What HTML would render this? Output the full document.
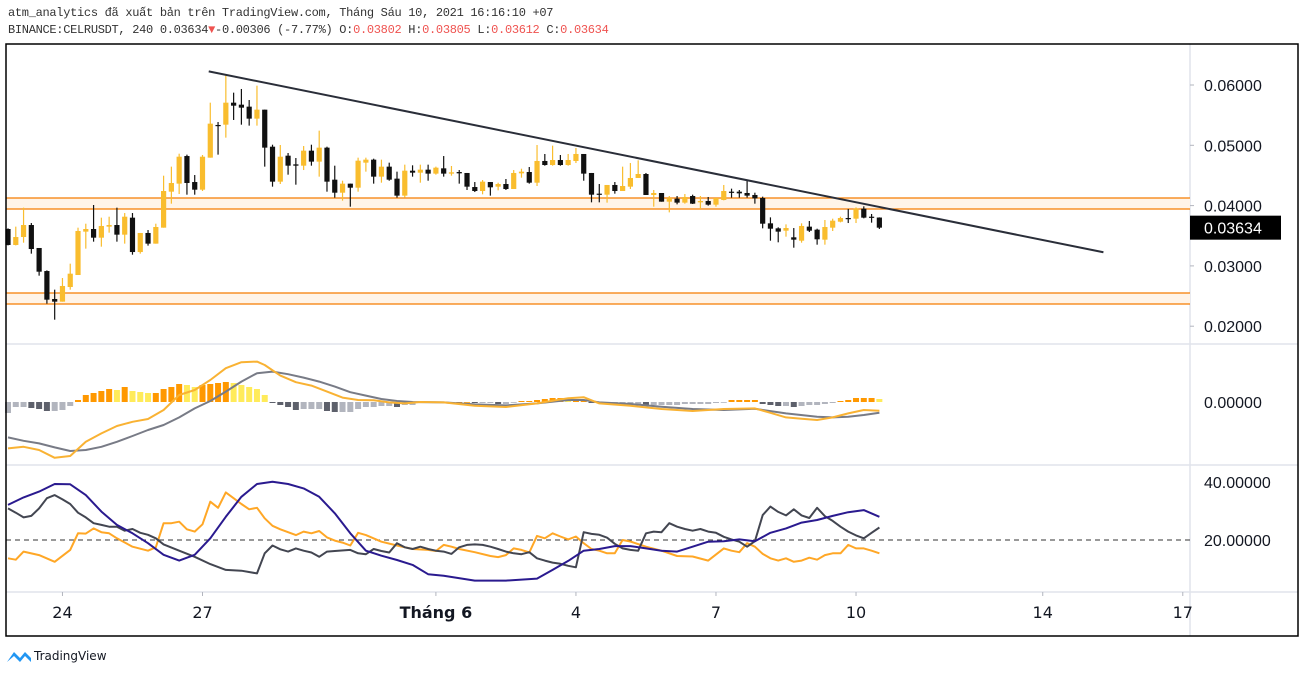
<!DOCTYPE html>
<html><head><meta charset="utf-8"><style>
html,body{margin:0;padding:0;background:#fff;width:1305px;height:673px;overflow:hidden}
.hdr{position:absolute;left:8px;font-family:"Liberation Mono",monospace;font-size:12px;color:#333;white-space:pre;letter-spacing:-0.3px}
.red{color:#ef5350}
svg{position:absolute;left:0;top:0}
</style></head><body>
<div class="hdr" style="top:6px">atm_analytics đã xuất bản trên TradingView.com, Tháng Sáu 10, 2021 16:16:10 +07</div>
<div class="hdr" style="top:23px">BINANCE:CELRUSDT, 240 0.03634<span class="red">▼</span>-0.00306 (-7.77%) O:<span class="red">0.03802</span> H:<span class="red">0.03805</span> L:<span class="red">0.03612</span> C:<span class="red">0.03634</span></div>
<svg id="chart" width="1305" height="673" xmlns="http://www.w3.org/2000/svg"></svg>
<script>
// ---- price data (4h candles) ----
const opens=[.03612,.03347,.03479,.03678,.03297,.02915,.02451,.02407,.02650,.02849,.03568,.03612,.03468,.03651,.03678,.03518,.03800,.03230,.03546,.03369,.03634,.04231,.04364,.04822,.04391,.04264,.04795,.05337,.05342,.05707,.05674,.05641,.05442,.05591,.04977,.04397,.04828,.04684,.04662,.04911,.04729,.04961,.04430,.04214,.04364,.04297,.04712,.04762,.04480,.04646,.04447,.04165,.04579,.04546,.04596,.04530,.04618,.04530,.04557,.04541,.04308,.04242,.04391,.04314,.04358,.04275,.04535,.04557,.04380,.04740,.04673,.04756,.04673,.04740,.04856,.04541,.04198,.04181,.04342,.04242,.04314,.04458,.04524,.04176,.04209,.04065,.04115,.04049,.04159,.04054,.04076,.04015,.04093,.04231,.04231,.04209,.04176,.04126,.03706,.03623,.03584,.03474,.03418,.03651,.03601,.03435,.03634,.03733,.03794,.03783,.03949,.03816,.03802];
const highs=[.03623,.03651,.03966,.03711,.03297,.02926,.02606,.02799,.03037,.03634,.03700,.04010,.03800,.03816,.03966,.03877,.03877,.03546,.03595,.03700,.04496,.04646,.04861,.04845,.04507,.04839,.05707,.05386,.06182,.05873,.05934,.05751,.05989,.05591,.05010,.05005,.04872,.04789,.04988,.05010,.05243,.04977,.04662,.04413,.04364,.04795,.04795,.04778,.04762,.04712,.04563,.04679,.04668,.04679,.04679,.04646,.04822,.04657,.04590,.04541,.04391,.04424,.04391,.04380,.04441,.04590,.04612,.04640,.05005,.04856,.04994,.04839,.04856,.04955,.04856,.04541,.04358,.04342,.04391,.04646,.04706,.04751,.04541,.04259,.04209,.04159,.04159,.04192,.04181,.04159,.04143,.04126,.04342,.04281,.04259,.04424,.04214,.04148,.03805,.03640,.03689,.03628,.03706,.03745,.03617,.03761,.03783,.03816,.03944,.03971,.03988,.03861,.03805];
const lows=[.03340,.03340,.03385,.03203,.02838,.02374,.02108,.02407,.02606,.02849,.03286,.03402,.03319,.03551,.03402,.03369,.03186,.03203,.03336,.03369,.03634,.04032,.04192,.04181,.04181,.04242,.04795,.04845,.05127,.05420,.05342,.05326,.05326,.04646,.04314,.04358,.04513,.04347,.04590,.04662,.04480,.04231,.04132,.04082,.03982,.04231,.04563,.04364,.04380,.04413,.04132,.04132,.04480,.04380,.04413,.04513,.04480,.04496,.04364,.04259,.04225,.04187,.04165,.04253,.04259,.04275,.04463,.04364,.04325,.04662,.04662,.04662,.04662,.04706,.04413,.04054,.04054,.04049,.04198,.04242,.04275,.04458,.04176,.03982,.04065,.03888,.04021,.04032,.04027,.03944,.03999,.03982,.04087,.04132,.04132,.04132,.04032,.03623,.03418,.03391,.03485,.03302,.03385,.03562,.03352,.03352,.03579,.03722,.03711,.03711,.03789,.03717,.03612];
const closes=[.03347,.03479,.03678,.03280,.02904,.02440,.02407,.02667,.02871,.03579,.03612,.03468,.03662,.03678,.03518,.03816,.03230,.03546,.03369,.03645,.04242,.04375,.04811,.04375,.04264,.04811,.05359,.05326,.05707,.05657,.05624,.05442,.05591,.04961,.04397,.04811,.04662,.04662,.04911,.04729,.04961,.04397,.04214,.04364,.04297,.04745,.04762,.04480,.04646,.04430,.04165,.04579,.04546,.04596,.04530,.04629,.04530,.04552,.04535,.04314,.04242,.04397,.04303,.04358,.04275,.04541,.04563,.04380,.04740,.04673,.04756,.04673,.04756,.04856,.04530,.04181,.04187,.04342,.04242,.04325,.04458,.04524,.04176,.04209,.04065,.04126,.04049,.04143,.04032,.04076,.04015,.04126,.04242,.04214,.04203,.04165,.04120,.03700,.03617,.03568,.03628,.03435,.03662,.03584,.03441,.03645,.03750,.03794,.03783,.03949,.03800,.03805,.03634];
const priceTicks=[0.06,0.05,0.04,0.03,0.02];
const zoneLevels=[[0.04126,0.03944],[0.02551,0.02368]];
const trendPrices=[0.06226,0.03226]; const trendIdx=[25.8,140.8];
// ---- MACD (units 1e-4) ----
const macdIdx=[0,2,4,6,8,10,12,14,16,18,20,22,24,26,28,30,32,33,35,37,39,41,43,45,47,49,51,53,56,60,64,68,72,74,76,80,84,88,92,96,98,100,102,104,106,108,110,112];
const macdVals=[-23.2,-22.4,-24,-27.9,-27,-19.9,-15.7,-12,-9.9,-8.5,-4,3.5,6,11,16.9,19.9,20.2,18.5,13.2,9.9,8.2,5.2,2.2,1,0.9,-0.2,-0.7,0,-0.2,-1.9,-2.5,-0.7,1.9,2.4,-0.7,-1.9,-3.5,-4.5,-3.5,-3.2,-5.4,-7.7,-8.4,-9,-7.7,-5.7,-4,-4.4];
const sigIdx=[0,2,4,6,8,10,12,14,16,18,20,22,24,26,28,30,32,34,36,38,40,42,44,46,48,50,52,56,60,64,68,72,74,76,80,84,88,92,96,100,104,106,108,110,112];
const sigVals=[-17.7,-19.4,-20.7,-22.7,-24.5,-24,-22.4,-19.9,-17,-14,-11.5,-7.7,-3.2,0.5,5.2,10.2,14.4,15.2,13.9,12.2,10.2,7.7,4.9,3.2,1.5,0.5,0,-0.2,-1.2,-1.7,-0.7,1,1,-0.2,-1,-2.4,-3.5,-4,-3.4,-5.7,-7.4,-7.7,-7.4,-6.5,-5.4];
const histVals=[-5.5,-2.5,-2.5,-3,-3.5,-4.5,-4.5,-4,-2,1,3.5,4.5,5.5,6.5,6,7.5,5.5,5,4.5,4.5,6.5,7.5,9,8.5,7.5,8.5,9,9.5,10,9.5,8.5,7.5,6.5,3.5,-0.5,-1.5,-2.5,-4,-3.5,-3.5,-3.5,-4.5,-5,-5,-5,-3.5,-2.5,-2.5,-2,-2,-2.5,-1.5,-1.5,-0.5,0,0,0,0,0,0,-0.5,-0.5,-0.5,-1,-1,-0.3,0.5,0.5,1,1.5,2,2,1,1,1,-0.5,-0.5,-1,-1,-1,-1,-1,-1.5,-1.5,-1.5,-1.5,-1.5,-1,-1,-1,-1,-0.5,-0.3,1,1,1,1,-1,-1.5,-2,-2,-2.5,-2,-1.5,-1.5,-1,-0.5,0.5,1,2,2,2,1.5];
// ---- DMI ----
const adxIdx=[0,2,4,6,8,10,12,14,16,18,20,22,24,26,28,30,32,34,36,38,40,42,44,46,48,50,52,54,56,60,64,68,70,72,74,76,78,80,82,84,86,88,90,92,94,96,98,100,102,104,106,108,110,112];
const adxVals=[32.1,34.7,36.7,39.3,39.2,35.5,29.8,25.2,22.3,18.9,14.9,12.9,14.9,20.6,28,34.9,39.3,40.1,39.3,37.8,34.9,29.2,22.3,16.3,14.6,13.1,11.4,8.2,7.7,6,6,6.7,9.7,12.8,16.3,16.9,17.9,17.9,17.1,16.3,16,17.7,19.4,19.6,20.2,19.6,22.5,24,26,26.9,28.3,29.6,30.3,28];
const pdiIdx=[0,1,2,4,6,8,9,10,11,12,13,14,16,18,19,20,21,22,23,24,25,26,27,28,29,30,31,32,33,34,35,36,37,38,39,40,41,42,43,44,45,46,48,50,52,54,55,56,57,58,60,62,63,64,65,66,67,68,69,70,71,72,73,74,75,76,77,78,79,80,82,84,86,88,90,92,93,94,95,96,97,98,99,100,101,102,103,104,105,106,107,108,109,110,111,112];
const pdiVals=[13.7,13.2,16,14.8,12.5,16.6,22.3,22.2,24,22.7,22.3,20.6,17.7,16.3,17.5,25.8,25.8,26.3,23.7,22.9,25.4,33.2,31.1,36.4,34.4,32.4,30.6,31.1,27.5,24.9,23.7,22.7,21.7,22.9,22.3,23.1,20.9,19.8,19.1,18.1,22.5,21.7,19.4,18.1,16.9,16.6,16.2,18.3,17.7,16.9,15.8,14.5,14.1,14.8,17.1,16.6,15.7,21.4,20.6,22.3,21.2,20.2,21.2,18.9,16.9,16.3,15.4,15.4,20,19.5,17.7,16.3,14.5,14.3,12.9,17.1,16.3,15.8,18.9,17.7,15.2,13.7,12.9,13.7,12.5,12.9,13.9,13.2,14.8,15.4,15.4,18.3,17.1,17.1,16.3,15.4];
const mdiIdx=[0,1,2,3,4,5,6,7,8,9,10,11,12,13,14,15,16,17,18,19,20,22,24,26,28,30,32,33,34,35,36,37,38,39,40,41,42,44,45,46,47,48,49,50,51,52,53,54,55,56,57,58,59,60,61,62,63,64,65,66,67,68,69,70,71,72,73,74,75,76,77,78,79,80,81,82,83,84,85,86,87,88,89,90,91,92,93,94,95,96,97,98,99,100,101,102,103,104,105,106,107,108,109,110,111,112];
const mdiVals=[30.9,29.4,27.8,28.3,30.9,34.4,35.5,34,32.4,29.4,27.8,25.8,25.2,24.6,24.6,23.2,23.8,22.5,21.8,20.6,18.5,16.3,14.2,11.7,9.7,9.4,8.5,15.4,18.1,16.8,16,17.1,16.3,15.7,14.2,16,16.2,16.6,15.4,15.1,16.9,16.2,15.7,18.9,17.5,16.9,17.7,16.9,16.3,16,15.2,17.5,18.3,18.5,18.3,17.7,16.9,16,15.4,15.1,15.8,13.7,12.9,12.2,11.8,11.1,10.6,22.7,22.1,21.8,20.8,18.7,17.1,16.6,16.3,22.3,22.9,22.7,25.8,24.6,23.8,23.2,23.8,22.9,22.5,21.1,20.2,19.4,17.7,19.6,28.6,31.5,29.7,28.5,30.6,28.5,27.6,31.1,28.2,26.6,24.6,22.9,21.6,20.6,22.5,24.3];
const dmiTicks=[40,20];
const xLabels=["24","27","Tháng 6","4","7","10","14","17"];
const xLabelIdx=[7,25,55,73,91,109,133,151];

const NS="http://www.w3.org/2000/svg";
const svg=document.getElementById('chart');
function el(tag,attrs,parent){const e=document.createElementNS(NS,tag);for(const k in attrs)e.setAttribute(k,attrs[k]);(parent||svg).appendChild(e);return e;}
const X=i=>8+i*7.78;
const Y=p=>85+(0.06-p)*6030;
const YM=v=>402-v*2;
const YD=v=>540-(v-20)*2.9;
const L=6,R=1190,RB=1298,T=44,B=636;

// separators
[[344],[465],[592]].forEach(([y])=>{const s=el('line',{x1:L,x2:RB,y1:y,y2:y,stroke:'#e0e3eb','stroke-width':1.5});

});
const vs=el('line',{x1:R,x2:R,y1:T,y2:B,stroke:'#e0e3eb','stroke-width':1.5});



// zones
zoneLevels.forEach(z=>{const g=el('g',{});


el('rect',{x:L,y:Y(z[0]),width:R-L,height:Y(z[1])-Y(z[0]),fill:'#fff4e8'},g);
el('line',{x1:L,x2:R,y1:Y(z[0]),y2:Y(z[0]),stroke:'#f57c00','stroke-width':1.3},g);
el('line',{x1:L,x2:R,y1:Y(z[1]),y2:Y(z[1]),stroke:'#f57c00','stroke-width':1.3},g);});

// candles
for(let i=0;i<opens.length;i++){const up=closes[i]>=opens[i];const c=up?'#f9bd2e':'#111';
const g=el('g',{});


el('line',{x1:X(i),x2:X(i),y1:Y(highs[i]),y2:Y(lows[i]),stroke:c,'stroke-width':1.2},g);
const t=Y(Math.max(opens[i],closes[i])),b=Y(Math.min(opens[i],closes[i]));
el('rect',{x:X(i)-2.6,y:t,width:5.2,height:Math.max(1.2,b-t),fill:c},g);}

// trend line
const tl=el('line',{x1:X(trendIdx[0]),y1:Y(trendPrices[0]),x2:X(trendIdx[1]),y2:Y(trendPrices[1]),stroke:'#2a2e39','stroke-width':2});



// MACD hist
for(let i=0;i<histVals.length;i++){const v=histVals[i],p=i>0?histVals[i-1]:v;
let c=v>=0?(v>=p?'#ff9800':'#ffeb5a'):(v<p?'#5d606b':'#b2b5be');
const y0=YM(0),y1=YM(v);
const r=el('rect',{x:X(i)-3,y:Math.min(y0,y1),width:6,height:Math.max(0.8,Math.abs(y1-y0)),fill:c});

}
function poly(idx,vals,fy,col,w,name){const d=idx.map((k,j)=>X(k).toFixed(1)+','+fy(vals[j]).toFixed(1)).join(' ');
const p=el('polyline',{points:d,fill:'none',stroke:col,'stroke-width':w,'stroke-linejoin':'round'});

}
poly(sigIdx,sigVals,YM,'#787b86',2,'macd-signal-line');
poly(macdIdx,macdVals,YM,'#f9b233',2,'macd-line');

// DMI
const dl=el('line',{x1:L,x2:R,y1:YD(20),y2:YD(20),stroke:'#333','stroke-width':1,'stroke-dasharray':'5,4'});


poly(pdiIdx,pdiVals,YD,'#ffa726',2,'plus-di-line');
poly(mdiIdx,mdiVals,YD,'#434651',2,'minus-di-line');
poly(adxIdx,adxVals,YD,'#2a1a8f',2,'adx-line');

// price axis
priceTicks.forEach(p=>{el('line',{x1:R,x2:R+4,y1:Y(p),y2:Y(p),stroke:'#b2b5be'});
const t=el('text',{x:1204,y:Y(p)+6,'font-size':16,'font-family':'Liberation Sans, sans-serif',fill:'#131722'});t.textContent=p.toFixed(5);

});
const lastP=closes[closes.length-1];
const badge=el('rect',{x:R,y:Y(lastP)-12,width:91,height:24,fill:'#000'});


const bt=el('text',{x:1204,y:Y(lastP)+6,'font-size':16,'font-family':'Liberation Sans, sans-serif',fill:'#fff'});bt.textContent=lastP.toFixed(5);


const mz=el('text',{x:1204,y:YM(0)+6,'font-size':16,'font-family':'Liberation Sans, sans-serif',fill:'#131722'});mz.textContent='0.00000';


dmiTicks.forEach(v=>{const t=el('text',{x:1204,y:YD(v)+6,'font-size':16,'font-family':'Liberation Sans, sans-serif',fill:'#131722'});t.textContent=v.toFixed(5);

});

// x axis
xLabels.forEach((s,j)=>{const x=X(xLabelIdx[j]);el('line',{x1:x,x2:x,y1:592,y2:596,stroke:'#b2b5be'});
const t=el('text',{x:x,y:618,'font-size':16,'text-anchor':'middle','font-family':'DejaVu Sans, sans-serif','font-weight':s.length>3?'bold':'normal',fill:'#131722'});t.textContent=s;

});

// frame
const fr=el('rect',{x:L,y:T,width:RB-L,height:B-T,fill:'none',stroke:'#000','stroke-width':1.5});



// logo
const lg=el('g',{});


el('path',{d:'M7 662 L14 652 L20 658 L25 652 L31 658 L31 662 L25 656 L20 662 L14 656 Z',fill:'#2196f3'},lg);
const lt=el('text',{x:34,y:660,'font-size':12,'font-family':'DejaVu Sans, sans-serif',fill:'#131722'},lg);lt.textContent='TradingView';
</script>
</body></html>
